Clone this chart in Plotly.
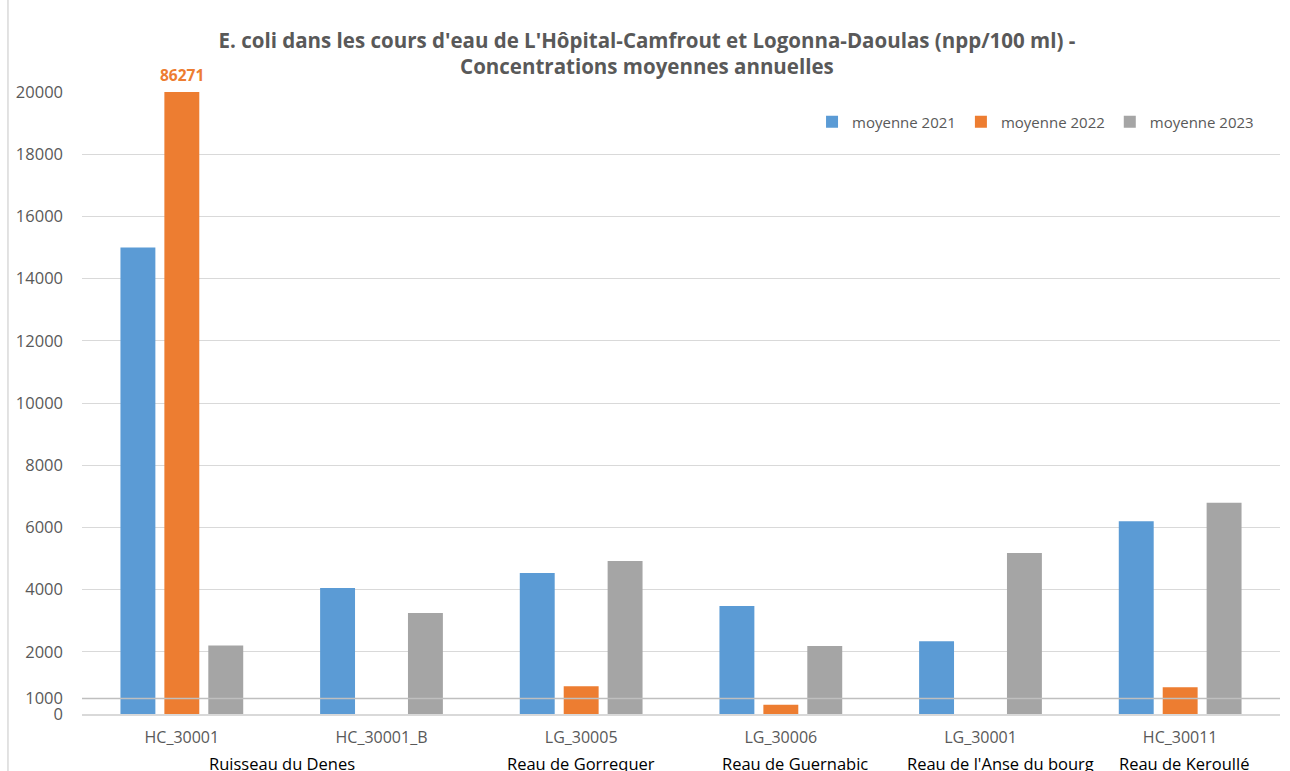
import plotly.graph_objects as go

codes = ["HC_30001", "HC_30001_B", "LG_30005", "LG_30006", "LG_30001", "HC_30011"]
rivers = ["Ruisseau du Denes", "Reau de Gorrequer", "Reau de Guernabic",
          "Reau de l'Anse du bourg", "Reau de Keroullé"]
river_pos = [0.5, 2.0, 3.07, 4.1, 5.02]

series_names = ["moyenne 2021", "moyenne 2022", "moyenne 2023"]
moy_2021 = [15000, 4050, 4530, 3470, 2340, 6200]
moy_2022 = [86271, None, 890, 300, None, 860]
moy_2023 = [2200, 3250, 4920, 2190, 5180, 6790]
colors = ["#5B9BD5", "#ED7D31", "#A5A5A5"]

y_tickvals = [0, 500, 2000, 4000, 6000, 8000, 10000, 12000, 14000, 16000, 18000, 20000]
y_ticktext = ["0", "1000", "2000", "4000", "6000", "8000", "10000", "12000",
              "14000", "16000", "18000", "20000"]
ref_line = 500
y_max = 20000

FONT = "Open Sans"
GREY = "#595959"

fig = go.Figure()
for name, vals, col in zip(series_names, [moy_2021, moy_2022, moy_2023], colors):
    fig.add_trace(go.Bar(x=codes, y=vals, name=name, marker_color=col,
                         marker_line_width=0))

# label for the clipped bar
fig.add_annotation(x=codes[0], y=y_max, text="<b>%d</b>" % moy_2022[0],
                   showarrow=False, yshift=17, yanchor="middle",
                   font=dict(family=FONT, size=15.5, color="#ED7D31"))

for name, pos in zip(rivers, river_pos):
    fig.add_annotation(x=pos, xref="x", y=0, yref="paper", text=name,
                       showarrow=False, yanchor="middle", yshift=-49,
                       font=dict(family=FONT, size=16.5, color="#000000"))

fig.add_shape(type="line", xref="paper", yref="y", x0=0, x1=1,
              y0=ref_line, y1=ref_line, layer="above",
              line=dict(color="#BFBFBF", width=1.5))

fig.add_shape(type="line", xref="paper", yref="paper", x0=-0.0618, x1=-0.0618,
              y0=-0.2, y1=1.2, line=dict(color="#D9D9D9", width=1.5))

fig.update_layout(
    width=1290, height=771,
    margin=dict(l=82, r=10, t=92, b=57),
    paper_bgcolor="white", plot_bgcolor="white",
    font=dict(family=FONT, color=GREY),
    title=dict(text="<b>E. coli dans les cours d'eau de L'Hôpital-Camfrout et Logonna-Daoulas (npp/100 ml) -<br>Concentrations moyennes annuelles</b>",
               x=0.5015, xref="container", xanchor="center",
               y=1 - 47.5 / 771, yref="container", yanchor="middle",
               font=dict(family=FONT, size=20.5, color=GREY)),
    barmode="group", bargap=0.34, bargroupgap=0.205,
    legend=dict(orientation="h", x=0.9825, xanchor="right", y=0.9518, yanchor="middle",
                font=dict(family=FONT, size=15, color=GREY),
                bgcolor="rgba(0,0,0,0)", itemwidth=30, traceorder="normal"),
    xaxis=dict(type="category", showgrid=False, showline=True, linecolor="#D9D9D9",
               linewidth=1.5, ticks="", ticklabelstandoff=8,
               tickfont=dict(family=FONT, size=16, color=GREY)),
    yaxis=dict(range=[0, y_max], tickvals=y_tickvals, ticktext=y_ticktext,
               showgrid=True, gridcolor="#D9D9D9", gridwidth=1,
               zeroline=False, showline=False, ticks="", ticklabelstandoff=18,
               tickfont=dict(family=FONT, size=16.5, color=GREY)),
)

fig.write_html("out.html", post_script="document.body.style.margin='0';",
               config={"displayModeBar": False})
